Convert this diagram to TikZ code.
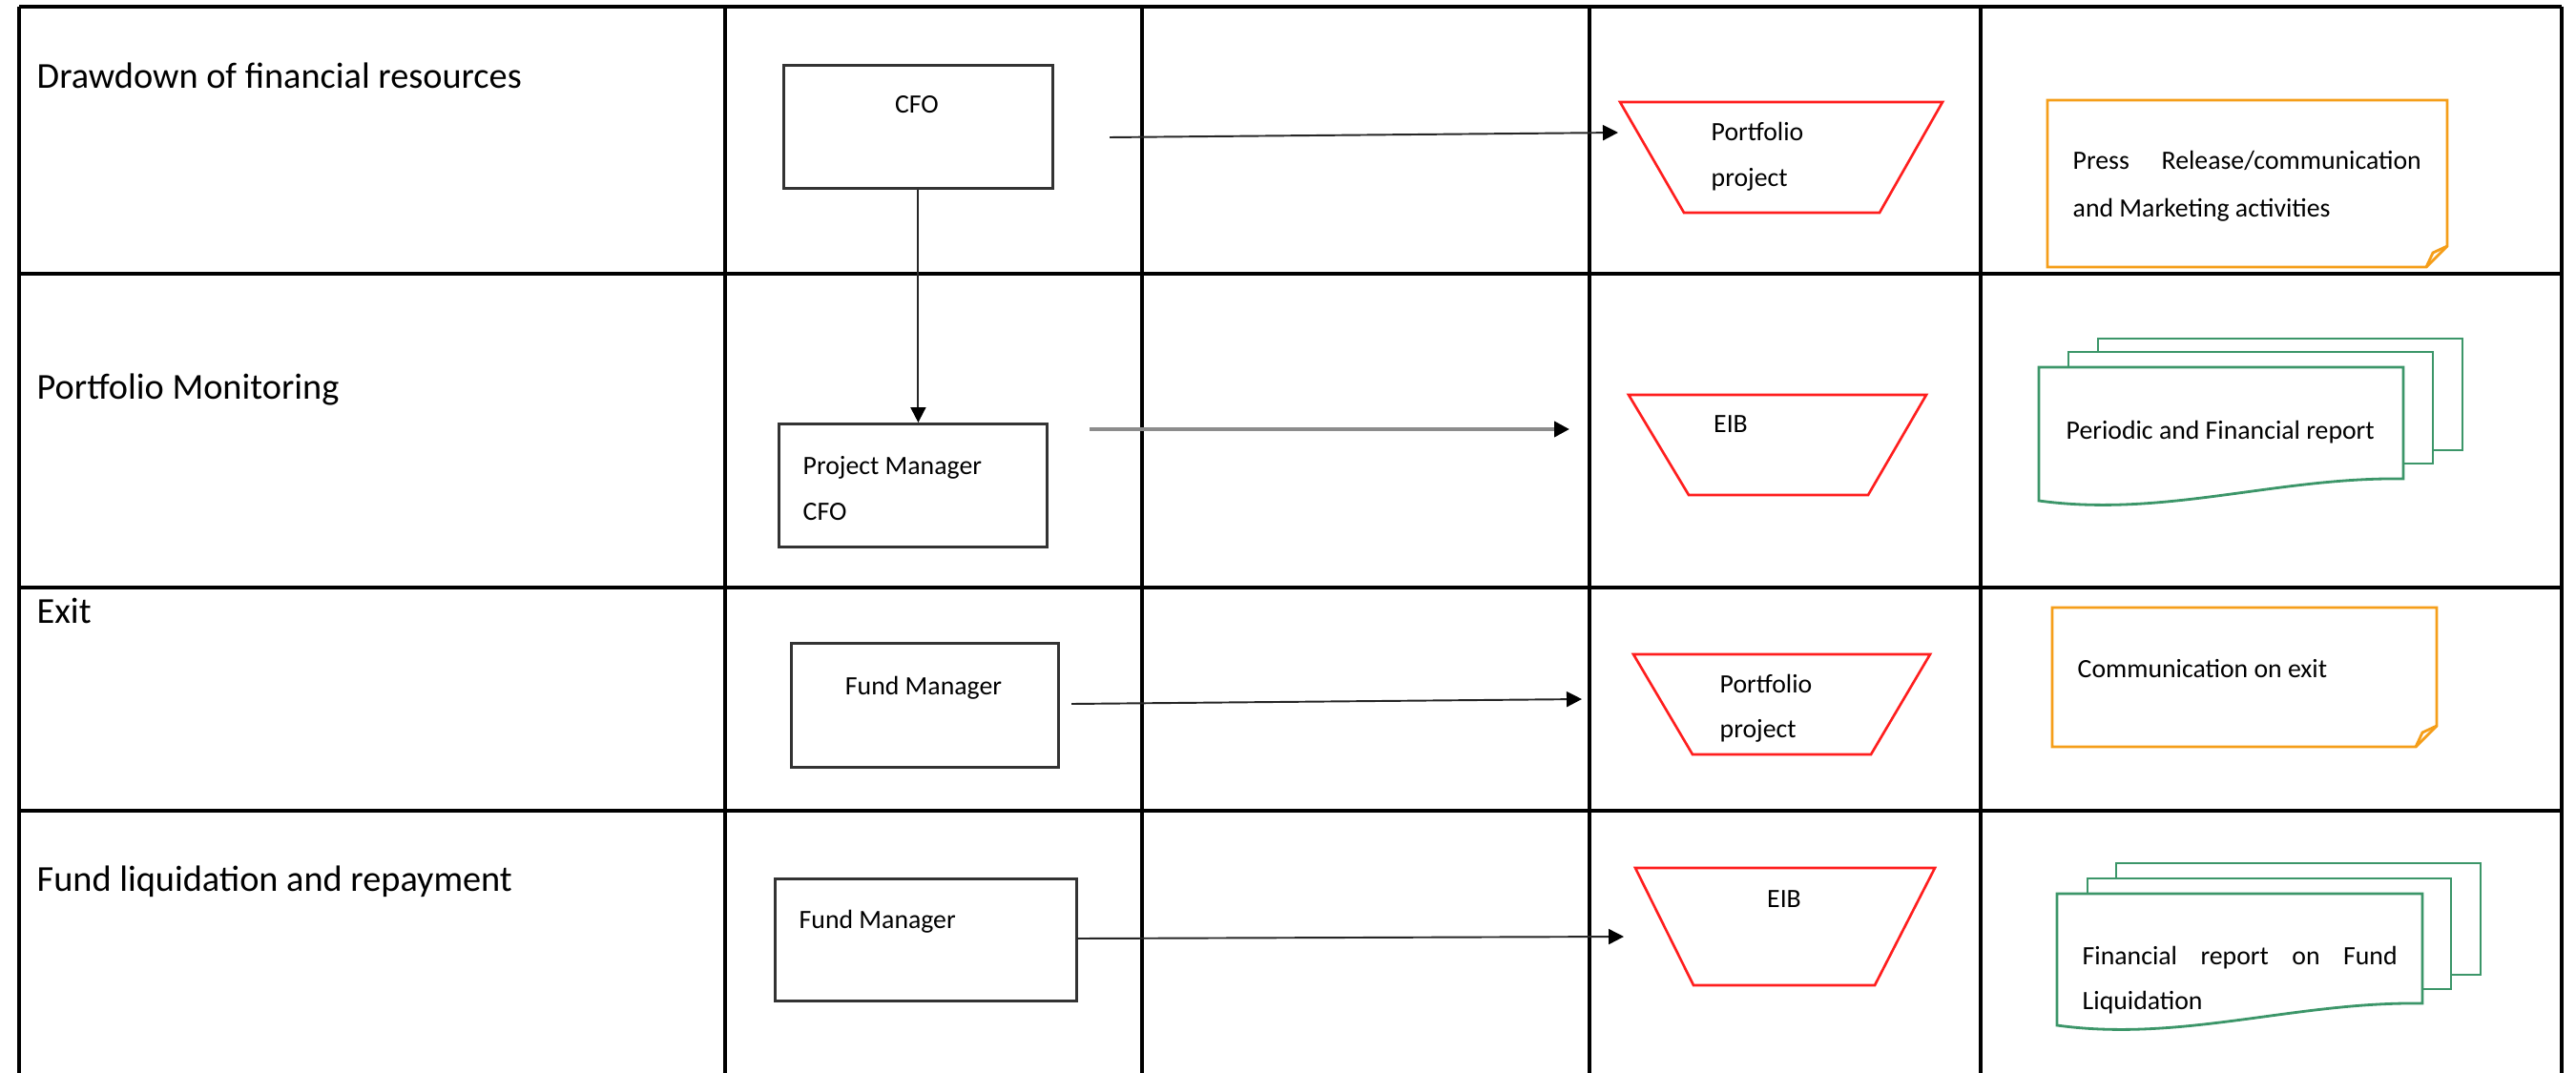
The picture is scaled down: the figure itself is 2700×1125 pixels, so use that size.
\documentclass[tikz,border=0pt]{standalone}
\usepackage{fontspec}
\setmainfont{Carlito}
\usetikzlibrary{arrows.meta}
\definecolor{trapred}{RGB}{255,30,30}
\definecolor{noteorange}{RGB}{245,158,25}
\definecolor{docgreen}{RGB}{60,150,105}
\begin{document}
\begin{tikzpicture}[x=0.1mm,y=-0.1mm,
  lane/.style={line width=1pt, black},
  proc/.style={draw=black!80, line width=0.8pt, fill=white, inner sep=0, anchor=north west},
  trap/.style={draw=trapred, line width=0.75pt},
  note/.style={draw=noteorange, line width=0.8pt, line join=miter},
  doc/.style={draw=docgreen, line width=0.8pt, fill=white},
  lbl/.style={font=\fontsize{10.9}{13}\selectfont, anchor=base west, inner sep=0},
  small/.style={font=\fontsize{7.9}{14}\selectfont, anchor=base west, inner sep=0},
  smallc/.style={font=\fontsize{7.9}{14}\selectfont, anchor=base, inner sep=0},
  flow/.style={-{Triangle[length=1.6mm,width=1.6mm,color=black]}, line width=0.55pt, black!85}]
\useasboundingbox (0,0) rectangle (2700,1125);
\fill[white] (0,0) rectangle (2700,1125);
\begin{scope}
\clip (0,0) rectangle (2700,1125);
% table grid
\draw[lane, line width=1.1pt] (20,7) -- (2685,7);
\draw[lane, line width=1.1pt] (20,7) -- (20,1130);
\draw[lane, line width=1.1pt] (2685,7) -- (2685,1130);
\foreach \yy in {287,616,850} \draw[lane] (20,\yy) -- (2685,\yy);
\foreach \xx in {760,1197,1666,2076} \draw[lane, line width=0.9pt] (\xx,7) -- (\xx,1130);
\end{scope}

% row labels
\node[lbl] (r1) at (38,93) {Drawdown of financial resources};
\node[lbl] (r2) at (38,418) {Portfolio Monitoring};
\node[lbl] (r3) at (38,653) {Exit};
\node[lbl] (r4) at (38,934) {Fund liquidation and repayment};

% process boxes
\node[proc, minimum width=28.2mm, minimum height=12.9mm] (cfo) at (820,67) {};
\node[proc, minimum width=28.1mm, minimum height=12.9mm] (pm) at (815,443) {};
\node[proc, minimum width=28.0mm, minimum height=13.0mm] (fma) at (828,673) {};
\node[proc, minimum width=31.6mm, minimum height=12.8mm] (fmb) at (811,920) {};

\node[smallc] (cfot) at (961,119) {CFO};
\node[small] (pmt1) at (841,497) {Project Manager};
\node[small] (pmt2) at (841,545) {CFO};
\node[smallc] (fmat) at (968,728) {Fund Manager};
\node[small] (fmbt) at (837,973) {Fund Manager};

% trapezoids
\draw[trap] (1698,107) -- (2036,107) -- (1970,223) -- (1765,223) -- cycle;
\draw[trap] (1707,414) -- (2019,414) -- (1958,519) -- (1770,519) -- cycle;
\draw[trap] (1712,686) -- (2023,686) -- (1961,791) -- (1774,791) -- cycle;
\draw[trap] (1714,910) -- (2028,910) -- (1965,1033) -- (1775,1033) -- cycle;

\node[small] (pp1a) at (1793,148) {Portfolio};
\node[small] (pp1b) at (1793,196) {project};
\node[smallc] (eib1) at (1814,453) {EIB};
\node[small] (pp3a) at (1802,726) {Portfolio};
\node[small] (pp3b) at (1802,773) {project};
\node[smallc] (eib2) at (1870,951) {EIB};

% notes
\draw[note] (2146,105) -- (2565,105) -- (2565,258) -- (2543,280) -- (2146,280) -- cycle;
\draw[note] (2565,258) -- (2550,265) -- (2543,280);
\draw[note] (2151,637) -- (2554,637) -- (2554,761) -- (2532,783) -- (2151,783) -- cycle;
\draw[note] (2554,761) -- (2539,768) -- (2532,783);

\node[small] (pr1) at (2172,178) {\hbox to 36.5mm{Press\hfill Release/communication}};
\node[small] (pr2) at (2172,227) {and Marketing activities};
\node[small] (com) at (2177,710) {Communication on exit};

% multi-documents
\draw[doc] (2199,355) rectangle (2581,472);
\draw[doc] (2168,369) rectangle (2550,486);
\draw[doc] (2137,385) -- (2519,385) -- (2519,502)
  .. controls (2387,500) and (2267,543) .. (2137,525) -- cycle;
\node[small] (per) at (2165,460) {Periodic and Financial report};

\draw[doc] (2218,905) rectangle (2600,1022);
\draw[doc] (2188,921) rectangle (2569,1037);
\draw[doc] (2156,937) -- (2539,937) -- (2539,1052)
  .. controls (2406,1050) and (2286,1093) .. (2156,1075) -- cycle;
\node[small] (fin1) at (2182,1011) {\hbox to 33mm{Financial\hfill report\hfill on\hfill Fund}};
\node[small] (fin2) at (2182,1058) {Liquidation};

% connectors
\coordinate (a1s) at (1163,144); \coordinate (a1e) at (1696,139);
\coordinate (a2s) at (1142,450); \coordinate (a2e) at (1645,450);
\coordinate (a3s) at (1123,738); \coordinate (a3e) at (1658,733);
\coordinate (a4s) at (1129,984); \coordinate (a4e) at (1702,982);
\draw[flow] (cfo.south) -- (cfo.south |- pm.north);
\draw[flow] (a1s) -- (a1e);
\draw[flow, black!45, line width=1.1pt] (a2s) -- (a2e);
\draw[flow] (a3s) -- (a3e);
\draw[flow] (a4s) -- (a4e);
\end{tikzpicture}
\end{document}
